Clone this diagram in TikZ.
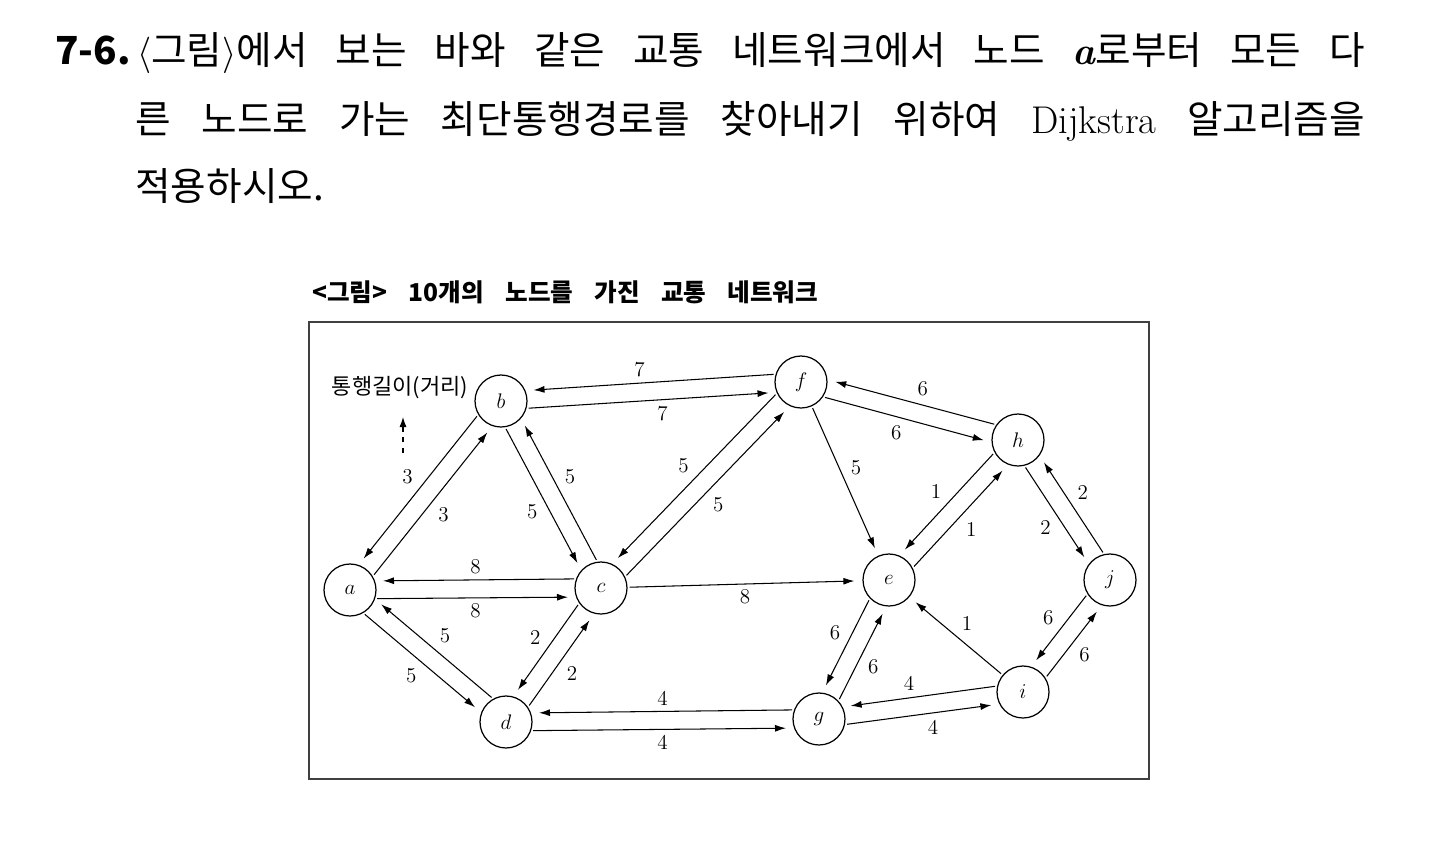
\documentclass[tikz,border=0pt]{standalone}
\usepackage{fontspec}
\newfontfamily\cjk{Noto Sans CJK KR}
\usetikzlibrary{calc,arrows.meta}
\tikzset{
  town/.style={draw, circle, minimum size=1.04cm, inner sep=0pt, line width=0.7pt,
    font=\fontsize{13}{15}\selectfont},
  link/.style={-{Latex[length=2.2mm,width=1.4mm]}, line width=0.6pt,
    shorten >=0.16cm, shorten <=0.04cm},
  wt/.style={auto, inner sep=3pt, font=\fontsize{12}{14}\selectfont},
}
% two opposite roads, each kept to its own right
\newcommand\road[4]{%
  \draw[link] let \p1=($(#2)-(#1)$), \n1={atan2(\y1,\x1)},
      \n2={\n1-20}, \n3={\n1+200} in
    (#1.\n2) -- node[wt,swap] {#3} (#2.\n3);
  \draw[link] let \p1=($(#2)-(#1)$), \n1={atan2(\y1,\x1)},
      \n4={\n1+160}, \n5={\n1+20} in
    (#2.\n4) -- node[wt,swap] {#4} (#1.\n5);
}
\begin{document}
\begin{tikzpicture}[x=0.02cm, y=-0.02cm]
  \useasboundingbox[fill=white] (0,0) rectangle (1440,842);
  % question text
  \node[anchor=base west, inner sep=0pt] (q1) at (55,64)
    {\fontsize{22}{26}\selectfont\makebox[26.2cm][s]{\cjk\mbox{{\bfseries 7-6.}\,{\normalfont$\langle$}그림{\normalfont$\rangle$}에서} 보는 바와 같은 교통 네트워크에서 노드 {\normalfont\bfseries\itshape a}로부터 모든 다}};
  \node[anchor=base west, inner sep=0pt] (q2) at (135,133)
    {\fontsize{22}{26}\selectfont\makebox[24.6cm][s]{\cjk 른 노드로 가는 최단통행경로를 찾아내기 위하여 {\normalfont Dijkstra} 알고리즘을}};
  \node[anchor=base west, inner sep=0pt] (q3) at (135,200)
    {\fontsize{22}{26}\selectfont\cjk 적용하시오.};
  % caption and frame
  \node[anchor=base west, inner sep=0pt] (cap) at (312,301)
    {\fontsize{14}{16}\selectfont\makebox[10.12cm][s]{\cjk\bfseries <그림> 10개의 노드를 가진 교통 네트워크}};
  \draw[line width=0.8pt, black!75] (309,322) rectangle (1149,779);
  % legend
  \node (legend) at (400,388) {\fontsize{12.5}{14}\selectfont\cjk 통행길이(거리)};
  \coordinate (legtail) at (403,453);
  \coordinate (legtip) at (403,417);
  \draw[dashed, line width=0.6pt, -{Latex[length=2mm,width=1.4mm]}] (legtail) -- (legtip);
  % stations
  \node[town] (a) at (350,590) {$a$};
  \node[town] (b) at (501,401) {$b$};
  \node[town] (c) at (601,588) {$c$};
  \node[town] (d) at (506,722) {$d$};
  \node[town] (e) at (889,580) {$e$};
  \node[town] (f) at (801,382) {$f$};
  \node[town] (g) at (819,719) {$g$};
  \node[town] (h) at (1018,440) {$h$};
  \node[town] (i) at (1023,692) {$i$};
  \node[town] (j) at (1110,580) {$j$};
  % roads
  \road{a}{b}{3}{3}
  \road{b}{c}{5}{5}
  \road{a}{c}{8}{8}
  \road{c}{f}{5}{5}
  \road{b}{f}{7}{7}
  \road{f}{h}{6}{6}
  \road{h}{e}{1}{1}
  \road{h}{j}{2}{2}
  \road{a}{d}{5}{5}
  \road{c}{d}{2}{2}
  \road{d}{g}{4}{4}
  \road{e}{g}{6}{6}
  \road{g}{i}{4}{4}
  \road{i}{j}{6}{6}
  \path[link] (f) edge node[wt] {5} (e)
              (c) edge node[wt,swap] {8} (e)
              (i) edge node[wt,swap] {1} (e);
\end{tikzpicture}
\end{document}
